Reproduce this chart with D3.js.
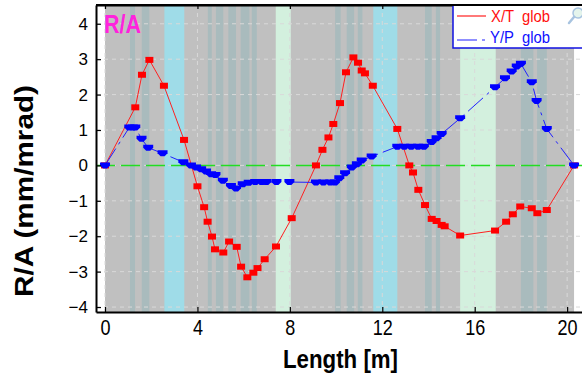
<!DOCTYPE html>
<html>
<head>
<meta charset="utf-8">
<script src="https://cdn.jsdelivr.net/npm/d3@7"></script>
<style>
  html, body { margin: 0; padding: 0; background: #ffffff; }
  svg { display: block; font-family: "Liberation Sans", Arial, sans-serif; }
</style>
</head>
<body>
<svg id="chart" width="582" height="378"></svg>
<script>
// Global R/A functions along the length of the line
const xtLength = [0, 1.31, 1.6, 1.92, 2.55, 3.42, 4.0, 4.29, 4.44, 4.63, 4.76, 5.12, 5.37, 5.7, 5.89, 6.16, 6.42, 6.6, 6.91, 7.4, 8.08,
  9.13, 9.41, 9.67, 9.88, 10.17, 10.43, 10.75, 10.95, 11.11, 11.25, 11.59, 12.65, 13.17, 13.33, 13.56, 13.85, 14.14, 14.35, 14.57, 14.7,
  15.37, 16.88, 17.36, 17.65, 17.97, 18.47, 18.71, 19.12, 20.3];
const xtValue = [0, 1.64, 2.56, 2.98, 2.25, 0.72, -0.59, -1.18, -1.59, -2.01, -2.37, -2.46, -2.15, -2.3, -2.86, -3.16, -3.03, -2.9, -2.65, -2.29, -1.49,
  0.0, 0.44, 0.79, 1.17, 1.76, 2.63, 3.05, 2.9, 2.68, 2.6, 2.25, 1.03, 0.0, -0.2, -0.69, -1.12, -1.51, -1.57, -1.68, -1.72,
  -1.98, -1.84, -1.59, -1.38, -1.16, -1.21, -1.35, -1.26, 0];

const ypLength = [0, 1.05, 1.2, 1.31, 1.58, 1.87, 2.49, 3.39, 3.72, 3.94, 4.16, 4.37, 4.59, 4.78, 5.1, 5.45, 5.67, 5.96, 6.22, 6.5, 6.78, 6.98, 7.42, 7.98,
  9.13, 9.45, 9.75, 9.95, 10.14, 10.39, 10.68, 10.9, 11.11, 11.54, 12.65, 12.95, 13.25, 13.55, 13.8, 14.14, 14.35, 14.57, 15.37,
  16.88, 17.31, 17.6, 17.82, 18.0, 18.47, 18.68, 19.12, 20.3];
const ypValue = [0, 1.07, 1.07, 1.07, 0.75, 0.5, 0.34, 0.09, 0.0, -0.06, -0.11, -0.17, -0.25, -0.27, -0.43, -0.58, -0.65, -0.53, -0.49, -0.47, -0.47, -0.47, -0.47, -0.47,
  -0.48, -0.48, -0.48, -0.48, -0.36, -0.22, -0.06, 0.03, 0.14, 0.25, 0.53, 0.53, 0.53, 0.53, 0.53, 0.66, 0.77, 0.89, 1.33,
  2.21, 2.46, 2.65, 2.79, 2.87, 2.35, 1.82, 1.03, 0];

// Element zones along the line (start, end in metres)
const lineExtent = [0, 20.3];
const magnetZones = [[1.08, 1.3], [1.59, 1.92], [4.45, 4.62], [4.8, 5.12], [5.34, 5.67], [5.87, 6.25], [6.35, 6.57],
  [9.96, 10.2], [10.46, 10.78], [10.94, 11.14], [13.85, 14.14], [14.32, 14.5], [18.0, 18.54], [18.7, 19.12]];
const cavityZones = [[2.57, 3.43], [11.61, 12.65]];
const driftZones = [[7.39, 8.04], [15.37, 16.91]];

const xTicks = [0, 4, 8, 12, 16, 20];
const yTicks = [-4, -3, -2, -1, 0, 1, 2, 3, 4];
const seriesNames = ["X/T  glob", "Y/P  glob"];

(function draw() {
  const svg = d3.select("#chart");
  const W = 582, pLeft = 96, pTop = 5, pBottom = 312;

  const x = d3.scaleLinear().domain([-0.39, 20.99]).range([pLeft, 590]);
  const y = d3.scaleLinear().domain([-4.14, 4.53]).range([pBottom, pTop]);

  svg.append("defs").append("clipPath").attr("id", "clip")
    .append("rect").attr("x", pLeft).attr("y", pTop).attr("width", W - pLeft).attr("height", pBottom - pTop);
  const area = svg.append("g").attr("clip-path", "url(#clip)");

  // Zone shading
  function band(zones, fill) {
    area.append("g").selectAll("rect").data(zones).join("rect")
      .attr("x", d => x(d[0])).attr("width", d => x(d[1]) - x(d[0]))
      .attr("y", pTop).attr("height", pBottom - pTop).attr("fill", fill);
  }
  band([lineExtent], "#c0c0c0");
  band(magnetZones, "#a9bbbd");
  band(cavityZones, "#9fdce8");
  band(driftZones, "#d3f0de");

  // Dashed grid
  area.append("g").selectAll("line").data(yTicks).join("line")
    .attr("x1", pLeft).attr("x2", W).attr("y1", d => y(d)).attr("y2", d => y(d))
    .attr("stroke", "#d9d9d9").attr("stroke-width", 1).attr("stroke-dasharray", "4,4");
  area.append("g").selectAll("line").data(xTicks).join("line")
    .attr("x1", d => x(d)).attr("x2", d => x(d)).attr("y1", pTop).attr("y2", pBottom)
    .attr("stroke", "#d9d9d9").attr("stroke-width", 1).attr("stroke-dasharray", "4,4");

  // Zero reference
  area.append("line").attr("x1", pLeft).attr("x2", W).attr("y1", y(0)).attr("y2", y(0))
    .attr("stroke", "#22dd22").attr("stroke-width", 1.5).attr("stroke-dasharray", "19,6");

  const xt = xtLength.map((m, i) => [m, xtValue[i]]);
  const yp = ypLength.map((m, i) => [m, ypValue[i]]);
  const line = d3.line().x(d => x(d[0])).y(d => y(d[1]));

  // X/T series
  area.append("path").datum(xt).attr("d", line)
    .attr("fill", "none").attr("stroke", "#ff2020").attr("stroke-width", 1);
  area.append("g").selectAll("rect").data(xt).join("rect")
    .attr("x", d => x(d[0]) - 4).attr("y", d => y(d[1]) - 3)
    .attr("width", 8).attr("height", 6).attr("fill", "#ff0000");

  // Y/P series
  area.append("path").datum(yp).attr("d", line)
    .attr("fill", "none").attr("stroke", "#2020ff").attr("stroke-width", 1)
    .attr("stroke-dasharray", "20,5,3,5");
  area.append("g").selectAll("path").data(yp).join("path")
    .attr("transform", d => `translate(${x(d[0])},${y(d[1])})`)
    .attr("d", "M-5,-3H5V0L2,3H-2L-5,0Z")
    .attr("fill", "#0000ff");

  // Axes
  const axisStyle = g => {
    g.select(".domain").attr("stroke", "#000").attr("stroke-width", 2);
    g.selectAll(".tick line").attr("stroke", "#000").attr("stroke-width", 1.2);
  };
  svg.append("g").attr("transform", `translate(${pLeft},0)`)
    .call(d3.axisLeft(y).tickValues(yTicks).tickSizeInner(-5).tickSizeOuter(0).tickPadding(8).tickFormat(d3.format("d")))
    .call(axisStyle)
    .call(g => g.selectAll(".tick text").attr("font-size", 17).attr("fill", "#000")
      .attr("font-family", "'Liberation Sans', Arial, sans-serif"));

  svg.append("g").attr("transform", `translate(0,${pBottom})`)
    .call(d3.axisBottom(x).tickValues(xTicks).tickSizeInner(-5).tickSizeOuter(0).tickPadding(7).tickFormat(d3.format("d")))
    .call(axisStyle)
    .call(g => g.selectAll(".tick text").attr("font-size", 22).attr("fill", "#000")
      .attr("font-family", "'Liberation Sans', Arial, sans-serif")
      .attr("transform", "scale(0.82,1)"));

  svg.append("g").attr("transform", `translate(0,${pTop})`)
    .call(d3.axisTop(x).tickValues(xTicks).tickSizeInner(-4).tickSizeOuter(0).tickFormat(""))
    .call(axisStyle);

  // Axis titles
  svg.append("text").attr("x", 340.5).attr("y", 368).attr("text-anchor", "middle")
    .attr("font-size", 25).attr("font-weight", "bold").attr("fill", "#000")
    .attr("textLength", 115).attr("lengthAdjust", "spacingAndGlyphs")
    .text("Length [m]");
  svg.append("text").attr("transform", "translate(33,191) rotate(-90)").attr("text-anchor", "middle")
    .attr("font-size", 25).attr("font-weight", "bold").attr("fill", "#000")
    .attr("textLength", 212).attr("lengthAdjust", "spacingAndGlyphs")
    .text("R/A (mm/mrad)");

  // Panel tag
  svg.append("text").attr("x", 104).attr("y", 33)
    .attr("font-size", 25).attr("font-weight", "bold").attr("fill", "#ff22dd")
    .attr("textLength", 37).attr("lengthAdjust", "spacingAndGlyphs")
    .text("R/A");

  // Legend
  const lg = svg.append("g");
  lg.append("rect").attr("x", 453).attr("y", 5).attr("width", 140).attr("height", 43)
    .attr("fill", "#fff").attr("stroke", "#1010e0").attr("stroke-width", 1.5);
  lg.append("line").attr("x1", 457).attr("x2", 486).attr("y1", 16).attr("y2", 16)
    .attr("stroke", "#ff2020").attr("stroke-width", 1.2);
  lg.append("text").attr("x", 491).attr("y", 22).attr("font-size", 17).attr("fill", "#ff1010")
    .attr("textLength", 59).attr("lengthAdjust", "spacingAndGlyphs")
    .style("white-space", "pre").text(seriesNames[0]);
  lg.append("line").attr("x1", 457).attr("x2", 486).attr("y1", 40).attr("y2", 40)
    .attr("stroke", "#2020ff").attr("stroke-width", 1.2).attr("stroke-dasharray", "20,5,3,5");
  lg.append("text").attr("x", 490).attr("y", 43).attr("font-size", 17).attr("fill", "#1010ff")
    .attr("textLength", 60).attr("lengthAdjust", "spacingAndGlyphs")
    .style("white-space", "pre").text(seriesNames[1]);

  // Zoom tool glyph
  const zg = lg.append("g").attr("transform", "translate(578,13)");
  zg.append("line").attr("x1", -4).attr("y1", 4).attr("x2", -9).attr("y2", 10)
    .attr("stroke", "#a8c4e0").attr("stroke-width", 2.5).attr("stroke-linecap", "round");
  zg.append("circle").attr("r", 5).attr("fill", "#e4f4ec").attr("stroke", "#a8c4e0").attr("stroke-width", 1.5);

  // Frame top edge
  svg.append("line").attr("x1", pLeft).attr("x2", W).attr("y1", pTop).attr("y2", pTop)
    .attr("stroke", "#000").attr("stroke-width", 2);
})();
</script>
</body>
</html>
